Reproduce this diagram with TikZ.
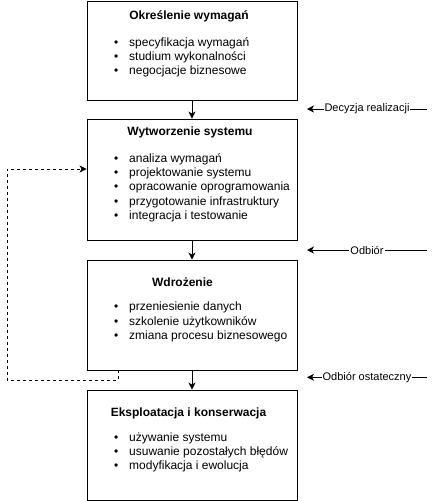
\documentclass[tikz,border=0pt]{standalone}
\usepackage{fontspec}
\setmainfont{Liberation Sans}
\usetikzlibrary{arrows.meta}
\tikzset{
  phase/.style={draw=black,rectangle,minimum width=210pt,inner sep=0pt,line width=0.9pt},
  phasetitle/.style={anchor=base,inner sep=0pt,font=\fontsize{12}{14}\selectfont\bfseries},
  tasks/.style={anchor=base west,inner sep=0pt,font=\fontsize{12}{14.3}\selectfont},
  flow/.style={line width=0.9pt,-{Stealth[length=7pt,width=7pt,inset=2pt]}},
  gate/.style={line width=0.9pt,{Stealth[length=7pt,width=7pt,inset=2pt]}-},
  gatelabel/.style={fill=white,inner sep=1pt,font=\fontsize{11}{13}\selectfont},
  feedback/.style={line width=0.9pt,dash pattern=on 3pt off 3pt,-{Stealth[length=7pt,width=7pt,inset=2pt]}}
}
\newcommand{\itm}{\makebox[15pt][l]{\textbullet}}
\begin{document}
\begin{tikzpicture}[yscale=-1,x=1pt,y=1pt]
\useasboundingbox (0,0) rectangle (436,501);
\node[phase,minimum height=99pt] (Pspec) at (192,50.5) {};
\node[phase,minimum height=121pt] (Pbuild) at (192,179.5) {};
\node[phase,minimum height=110pt] (Pdeploy) at (192,315) {};
\node[phase,minimum height=110pt] (Pmaint) at (192,445) {};
\node[phasetitle] (Tspec) at (189,19.5) {Określenie wymagań};
\node[phasetitle] (Tbuild) at (190,135) {Wytworzenie systemu};
\node[phasetitle] (Tdeploy) at (182.5,286) {Wdrożenie};
\node[phasetitle] (Tmaint) at (188.5,416.7) {Eksploatacja i konserwacja};
\node[tasks] (Lspec) at (114,46) {\begin{tabular}[t]{@{}l@{}}\itm specyfikacja wymagań\\ \itm studium wykonalności\\ \itm negocjacje biznesowe\end{tabular}};
\node[tasks] (Lbuild) at (114,162.3) {\begin{tabular}[t]{@{}l@{}}\itm analiza wymagań\\ \itm projektowanie systemu\\ \itm opracowanie oprogramowania\\ \itm przygotowanie infrastruktury\\ \itm integracja i testowanie\end{tabular}};
\node[tasks] (Ldeploy) at (114,310.7) {\begin{tabular}[t]{@{}l@{}}\itm przeniesienie danych\\ \itm szkolenie użytkowników\\ \itm zmiana procesu biznesowego\end{tabular}};
\node[tasks] (Lmaint) at (114,441) {\begin{tabular}[t]{@{}l@{}}\itm używanie systemu\\ \itm usuwanie pozostałych błędów\\ \itm modyfikacja i ewolucja\end{tabular}};
\draw[flow] (Pspec) -- (Pbuild);
\draw[flow] (Pbuild) -- (Pdeploy);
\draw[flow] (Pdeploy) -- (Pmaint);
\coordinate (Gdec1) at (307,109);
\coordinate (Gdec2) at (427,109);
\coordinate (Gacc1) at (307,250);
\coordinate (Gacc2) at (427,250);
\coordinate (Gfin1) at (307,377.3);
\coordinate (Gfin2) at (427,377.3);
\draw[gate] (Gdec1) -- node[gatelabel] (Ndec) {Decyzja realizacji} (Gdec2);
\draw[gate] (Gacc1) -- node[gatelabel] (Nacc) {Odbiór} (Gacc2);
\draw[gate] (Gfin1) -- node[gatelabel] (Nfin) {Odbiór ostateczny} (Gfin2);
\coordinate (Fstart) at (Pdeploy.south -| 118,0);
\coordinate (Fcorner) at (7,380);
\coordinate (Fend) at (Pbuild.west |- 0,169);
\draw[feedback] (Fstart) |- (Fcorner) |- (Fend);
\end{tikzpicture}
\end{document}
